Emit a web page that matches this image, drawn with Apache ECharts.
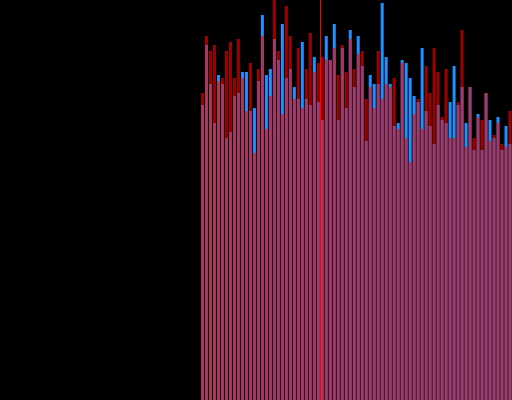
<!DOCTYPE html>
<html>
<head>
  <meta charset="utf-8">
  <script src="https://cdn.jsdelivr.net/npm/echarts@6/dist/echarts.min.js"></script>
  <style>
    html, body { margin: 0; padding: 0; background: #000; }
    #chart { width: 512px; height: 400px; }
  </style>
</head>
<body>
<div id="chart"></div>
<script>
  // one category per bar, 78 in total
  const categories = []
  for (let i = 1; i <= 78; i++) categories.push(String(i))

  const blueValues = [
    295, 355, 316, 277, 325, 316, 262, 268, 304, 307,
    328, 328, 289, 292, 319, 385, 325, 331, 361, 340,
    376, 322, 331, 313, 301, 358, 301, 295, 343, 298,
    280, 364, 340, 376, 280, 352, 292, 370, 313, 364,
    334, 259, 325, 316, 316, 397, 343, 316, 274, 277,
    340, 337, 322, 304, 298, 352, 289, 274, 256, 295,
    280, 277, 298, 334, 295, 313, 277, 313, 250, 286,
    250, 307, 280, 262, 283, 250, 274, 256
  ]

  const redValues = [
    307, 364, 349, 355, 319, 322, 349, 358, 322, 361,
    322, 289, 337, 247, 331, 364, 271, 304, 404, 349,
    286, 394, 364, 301, 352, 292, 331, 367, 328, 337,
    343, 340, 340, 352, 325, 355, 328, 361, 331, 346,
    349, 301, 313, 292, 349, 301, 316, 313, 322, 271,
    337, 262, 238, 286, 301, 271, 334, 307, 352, 328,
    283, 331, 262, 262, 298, 370, 253, 313, 262, 283,
    280, 307, 259, 265, 277, 256, 253, 289
  ]

  // the red marker sits on the boundary before this bar
  const splitIndex = 30

  const chart = echarts.init(document.getElementById('chart'), null, { renderer: 'canvas' })

  const option = {
    backgroundColor: '#000000',
    animation: false,
    grid: {
      left: 200.5,
      width: 312,
      top: 0,
      bottom: 0
    },
    xAxis: [{
      type: 'category',
      data: categories,
      show: false
    }, {
      // helper axis so the marker can sit between two categories
      type: 'value',
      min: 0,
      max: categories.length,
      show: false
    }],
    yAxis: {
      type: 'value',
      min: 0,
      max: 400,
      show: false,
      splitLine: { show: false }
    },
    series: [{
      name: 'blue',
      type: 'bar',
      data: blueValues,
      barWidth: 3,
      barGap: '-100%',
      itemStyle: { color: '#1e90ff' }
    }, {
      name: 'red',
      type: 'bar',
      data: redValues,
      barWidth: 3,
      barGap: '-100%',
      itemStyle: { color: '#ff0000', opacity: 0.62 }
    }, {
      name: 'marker',
      type: 'line',
      xAxisIndex: 1,
      data: [],
      markLine: {
        silent: true,
        symbol: ['none', 'none'],
        label: { show: false },
        lineStyle: { color: '#ff0000', width: 1, type: 'solid' },
        data: [{ xAxis: splitIndex }]
      }
    }]
  }

  chart.setOption(option)
</script>
</body>
</html>
